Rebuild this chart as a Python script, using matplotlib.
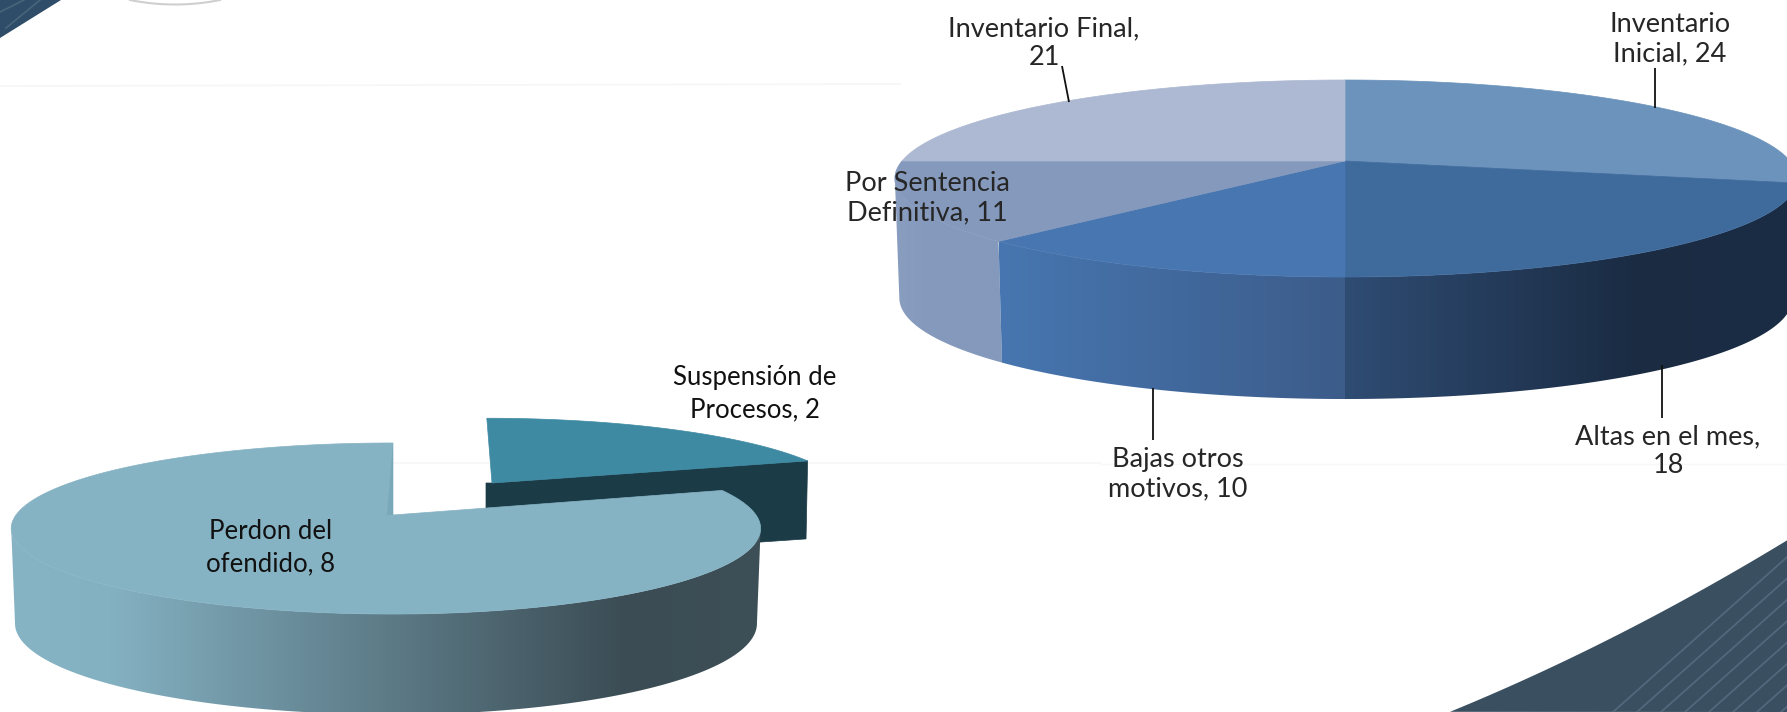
import numpy as np
import matplotlib
matplotlib.use("Agg")
import matplotlib.pyplot as plt
from matplotlib.patches import Polygon
from matplotlib.colors import to_rgb

# ---- data ----
big_labels = ["Inventario\nInicial, {}", "Altas en el mes,\n{}", "Bajas otros\nmotivos, {}",
              "Por Sentencia\nDefinitiva, {}", "Inventario Final,\n{}"]
big_values = [24, 18, 10, 11, 21]
big_top_colors = ["#6C93BC", "#3F6A9C", "#4776B0", "#8499BC", "#ADB9D2"]
small_labels = ["Suspensión de\nProcesos, {}", "Perdon del\nofendido, {}"]
small_values = [2, 8]
small_top_colors = ["#3F8AA3", "#86B3C4"]

W, H = 1787, 712
fig = plt.figure(figsize=(W / 100, H / 100), dpi=100, facecolor="white")
ax = fig.add_axes([0, 0, 1, 1])
ax.set_axis_off()


def rim(t0, t1, g):
    """Perspective projection of a pie rim between clockwise-from-top angles."""
    t = np.radians(np.linspace(t0, t1, max(int(abs(t1 - t0)) * 2, 2)))
    u, v = np.sin(t), np.cos(t)
    w = 1 + g["k"] * v
    rx = np.where(u < 0, g["rxl"], g["rxr"])
    x = g["cx"] + (rx * u + g.get("sh", 0) * v) / w
    y = g["cy"] - g["a"] * v / w
    return x, y, v


def base(x, y, v, g):
    return g["cx"] + (x - g["cx"]) * g["bs"], y + g["h0"] - g["h1"] * v


def silhouette(g):
    t = np.linspace(0, 360, 1441)
    x = np.array([rim(a, a + 1e-6, g)[0][0] for a in t])
    return t[np.argmax(x)], t[np.argmin(x)]


def wall(t0, t1, g, stops, z):
    tr, tl = silhouette(g)
    t0, t1 = max(t0, tr), min(t1, tl)
    if t1 <= t0:
        return
    x, y, v = rim(t0, t1, g)
    bx, by = base(x, y, v, g)
    pts = np.r_[np.c_[x, y], np.c_[bx, by][::-1]]
    patch = Polygon(pts, closed=True, fc="none", ec="none", transform=ax.transData, zorder=z)
    ax.add_patch(patch)
    x0, x1 = pts[:, 0].min(), pts[:, 0].max()
    xs = np.linspace(x0, x1, 512)
    sx = [s[0] for s in stops]
    cs = np.array([to_rgb(s[1]) for s in stops])
    img = np.stack([np.interp(xs, sx, cs[:, i]) for i in range(3)], axis=-1)[None, :, :]
    im = ax.imshow(img, extent=(x0, x1, pts[:, 1].max(), pts[:, 1].min()),
                   aspect="auto", zorder=z, interpolation="bilinear")
    im.set_clip_path(patch)


def top(t0, t1, g, color, z):
    x, y, _ = rim(t0, t1, g)
    ax.add_patch(Polygon(np.r_[[[g["cx"], g["cy"]]], np.c_[x, y]], closed=True,
                         fc=color, ec=color, lw=0.5, zorder=z))


def spans(values):
    e = np.r_[0, np.cumsum(values)] / np.sum(values) * 360
    return list(zip(e[:-1], e[1:]))


# ---- background decoration ----
deco = "#3A4F60"
cf = np.polyfit([1450, 1600, 1700, 1787], [712, 643, 592, 540], 2)
sx = np.linspace(1450, 1787, 80)
sy = np.polyval(cf, sx)
ax.add_patch(Polygon(np.r_[np.c_[sx, sy], [[1787, 712]]], closed=True, fc=deco, ec="none", zorder=1))
for off in range(0, 8):
    x_start = 1613 + off * 24
    ax.plot([x_start, 1787], [712, 712 - (1787 - x_start) * 0.89],
            color="#51697C", lw=1.3, zorder=1.1)
ax.add_patch(Polygon([[0, 0], [61, 0], [0, 38]], closed=True, fc="#2F4D68", ec="none", zorder=1))
ax.plot([6, 40], [28, 0], color="#4A657B", lw=1.2, zorder=1.1)
ax.plot([0, 24], [12, 0], color="#4A657B", lw=1.2, zorder=1.1)
ta = np.linspace(130, 220, 40)
ax.plot(ta, 4.5 * (1 - ((ta - 175) / 45) ** 2), color="#CFCFCF", lw=1.5, zorder=1)
ax.plot([0, 900], [86, 84], color="#F6F6F6", lw=1.2, zorder=1)
ax.plot([393, 1100], [463, 463], color="#F6F6F6", lw=1.2, zorder=1)
ax.plot([1100, 1787], [464, 464], color="#F8F8F8", lw=1.0, zorder=1)

# ---- big pie ----
G = dict(cx=1345, cy=161, rxl=443, rxr=445, a=95.4, k=0.1777, h0=119, h1=3, bs=0.99)
bs = spans(big_values)
wall(*bs[0], G, [(1345, "#2F4C73"), (1800, "#1A2B42")], 3)
wall(*bs[3], G, [(890, "#8A9EC0"), (930, "#8499BC"), (1005, "#8499BC")], 3)
wall(*bs[2], G, [(1000, "#4776B0"), (1345, "#3C5C8A")], 3.1)
wall(*bs[1], G, [(1345, "#2F4C73"), (1640, "#1A2B42"), (1800, "#1B2D45")], 3.1)
for (t0, t1), c in zip(bs, big_top_colors):
    top(t0, t1, G, c, 4)

# ---- small pie ----
sp = spans(small_values)
S = dict(cx=492, cy=483, rxl=350, rxr=350, a=75, k=0.158, h0=78, h1=0, bs=0.995, sh=-6)
x, y, v = rim(*sp[0], S)
bx, by = base(x, y, v, S)
ax.add_patch(Polygon([[x[-1], y[-1]], [bx[-1], by[-1]], [S["cx"] - 6, S["cy"] + S["h0"]],
                      [S["cx"] - 6, S["cy"]], [S["cx"], S["cy"]]],
                     closed=True, fc="#1B3B47", ec="#1B3B47", lw=0.5, zorder=5))
top(*sp[0], S, small_top_colors[0], 5.1)

P = dict(cx=393, cy=515, rxl=377, rxr=363, a=83.4, k=0.158, h0=94, h1=6.5, bs=0.99)
wall(*sp[1], P, [(50, "#86B3C4"), (110, "#84B1C2"), (625, "#3B4C54"), (770, "#3D4F57")], 6)
top(*sp[1], P, small_top_colors[1], 7)
x, y, _ = rim(360, 359, P)
ax.add_patch(Polygon([[x[0], y[0]], [P["cx"], P["cy"]], [P["cx"] - 6, P["cy"]]], closed=True,
                     fc="#78A8BA", ec="none", zorder=7.1))

# ---- leader lines ----
for (x0, y0, x1, y1) in [(1062, 66, 1069, 102), (1655, 68, 1655, 108),
                         (1662, 365, 1662, 418), (1153, 388, 1153, 440)]:
    ax.plot([x0, x1], [y0, y1], color="#111111", lw=1.3, zorder=8, solid_capstyle="butt")

# ---- labels ----
big_pos = [(1670, 39), (1668, 451), (1178, 474), (927, 198), (1044, 43)]
for s, val, (tx, ty) in zip(big_labels, big_values, big_pos):
    ax.text(tx, ty, s.format(val), ha="center", va="center", fontsize=19.5, family="Lato",
            color="#262626", linespacing=1.19, zorder=9)
small_pos = [(755, 394), (271, 548)]
for s, val, (tx, ty) in zip(small_labels, small_values, small_pos):
    ax.text(tx, ty, s.format(val), ha="center", va="center", fontsize=18.5, family="Lato",
            color="#111111", linespacing=1.38, zorder=9)

ax.set_xlim(0, W)
ax.set_ylim(H, 0)
fig.savefig("out.png", dpi=100)
